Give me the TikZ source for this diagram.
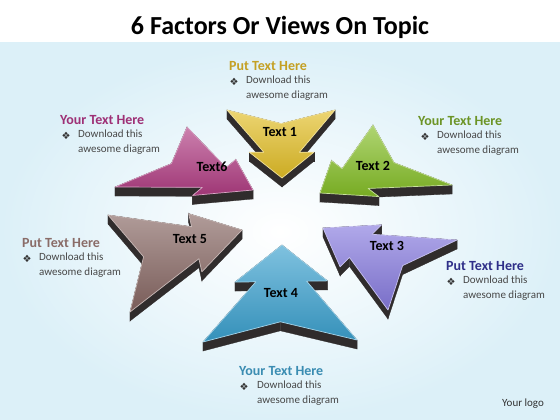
\documentclass[tikz,border=0pt]{standalone}
\usepackage{fontspec}
\setmainfont{Carlito}
\newfontfamily\dingfont{DejaVu Sans}
\usetikzlibrary{calc, positioning}

\definecolor{arYellow}{RGB}{226,190,38}
\definecolor{arGreen}{RGB}{132,190,38}
\definecolor{arPurple}{RGB}{134,122,222}
\definecolor{arBlue}{RGB}{58,160,206}
\definecolor{arBrown}{RGB}{134,102,98}
\definecolor{arMagenta}{RGB}{176,60,130}
\definecolor{sideDark}{RGB}{48,44,44}
\definecolor{hdYellow}{RGB}{196,160,36}
\definecolor{hdMagenta}{RGB}{158,48,118}
\definecolor{hdGreen}{RGB}{108,148,38}
\definecolor{hdBrown}{RGB}{138,108,104}
\definecolor{hdNavy}{RGB}{46,46,136}
\definecolor{hdBlue}{RGB}{58,140,178}
\definecolor{bgBlue}{RGB}{220,240,248}

% double arrow head: name, tip, back wing a, back wing b, colour
\newcommand{\DoubleHead}[5]{%
  \coordinate (#1-t) at (#2);
  \coordinate (#1-a) at (#3);
  \coordinate (#1-b) at (#4);
  \coordinate (#1-m) at ($(#1-a)!.5!(#1-b)$);
  \coordinate (#1-u) at ($(#1-b)-(#1-m)$);
  \coordinate (#1-1) at (#1-t);
  \coordinate (#1-2) at ($(#1-t)!.38!(#1-m) + .6*(#1-u)$);
  \coordinate (#1-3) at ($(#1-t)!.38!(#1-m) + .33*(#1-u)$);
  \coordinate (#1-4) at (#1-b);
  \coordinate (#1-5) at ($(#1-t)!.8!(#1-m)$);
  \coordinate (#1-6) at (#1-a);
  \coordinate (#1-7) at ($(#1-t)!.38!(#1-m) - .33*(#1-u)$);
  \coordinate (#1-8) at ($(#1-t)!.38!(#1-m) - .6*(#1-u)$);
  \foreach \i/\j in {1/2,2/3,3/4,4/5,5/6,6/7,7/8,8/1}
    \fill[side] (#1-\i) -- (#1-\j) -- ([yshift=-9pt]#1-\j) -- ([yshift=-9pt]#1-\i) -- cycle;
  \filldraw[top color=#5!65!white, bottom color=#5!90!black, draw=#5!45!white, line width=.7pt, line join=round]
    (#1-1) -- (#1-2) -- (#1-3) -- (#1-4) -- (#1-5) -- (#1-6) -- (#1-7) -- (#1-8) -- cycle;
}

\begin{document}
\begin{tikzpicture}[x=1pt, y=-1pt,
    side/.style={fill=sideDark, draw=sideDark, line width=.3pt},
    lbl/.style={font=\fontsize{14}{16}\selectfont\bfseries, text=black, inner sep=0pt},
    head/.style={font=\fontsize{14}{16}\selectfont\bfseries, text=#1, anchor=west, inner sep=0pt},
    body/.style={font=\fontsize{11}{15}\selectfont, text=black!72, align=left, anchor=north west, inner sep=0pt},
    bul/.style={font=\dingfont\fontsize{10}{12}\selectfont, text=black!80, inner sep=0pt}]

  % background
  \useasboundingbox (0,0) rectangle (560,420);
  \fill[white] (0,0) rectangle (560,420);
  \shade[inner color=white, outer color=bgBlue] (0,43) rectangle (560,420);

  \node[font=\fontsize{26}{30}\selectfont\bfseries] (title) at (280,27) {6 Factors Or Views On Topic};

  % arrows, back to front
  \DoubleHead{ar1}{282,178}{227,110}{335,110}{arYellow}
  \DoubleHead{ar6}{253,190}{115,187}{187,127}{arMagenta}
  \DoubleHead{ar2}{320,193}{373,125}{452,185}{arGreen}
  \DoubleHead{ar5}{242,230}{108,215}{130,312}{arBrown}
  \DoubleHead{ar3}{323,228}{457,240}{388,310}{arPurple}
  \DoubleHead{ar4}{282,245}{203,342}{357,340}{arBlue}

  \node[lbl] (l1) at (280,132) {Text 1};
  \node[lbl] (l2) at (373,166) {Text 2};
  \node[lbl] (l3) at (387,246) {Text 3};
  \node[lbl] (l4) at (281,293) {Text 4};
  \node[lbl] (l5) at (190,239) {Text 5};
  \node[lbl] (l6) at (212,167) {Text6};

  % notes
  \node[head=hdYellow] (h1) at (229,66) {Put Text Here};
  \node[body] (d1) at (246,76) {Download this\\awesome diagram};
  \node[bul] (b1) at (234,82) {❖};

  \node[head=hdMagenta] (h6) at (60,120) {Your Text Here};
  \node[body] (d6) at (78,130) {Download this\\awesome diagram};
  \node[bul] (b6) at (66,136) {❖};

  \node[head=hdGreen] (h2) at (418,121) {Your Text Here};
  \node[body] (d2) at (437,131) {Download this\\awesome diagram};
  \node[bul] (b2) at (425,137) {❖};

  \node[head=hdBrown] (h5) at (22,243) {Put Text Here};
  \node[body] (d5) at (39,253) {Download this\\awesome diagram};
  \node[bul] (b5) at (27,259) {❖};

  \node[head=hdNavy] (h3) at (446,266) {Put Text Here};
  \node[body] (d3) at (463,276) {Download this\\awesome diagram};
  \node[bul] (b3) at (451,282) {❖};

  \node[head=hdBlue] (h4) at (239,371) {Your Text Here};
  \node[body] (d4) at (257,381) {Download this\\awesome diagram};
  \node[bul] (b4) at (244,387) {❖};

  \node[font=\fontsize{11}{13}\selectfont, text=black!80] (logo) at (523,404) {Your logo};
\end{tikzpicture}
\end{document}
